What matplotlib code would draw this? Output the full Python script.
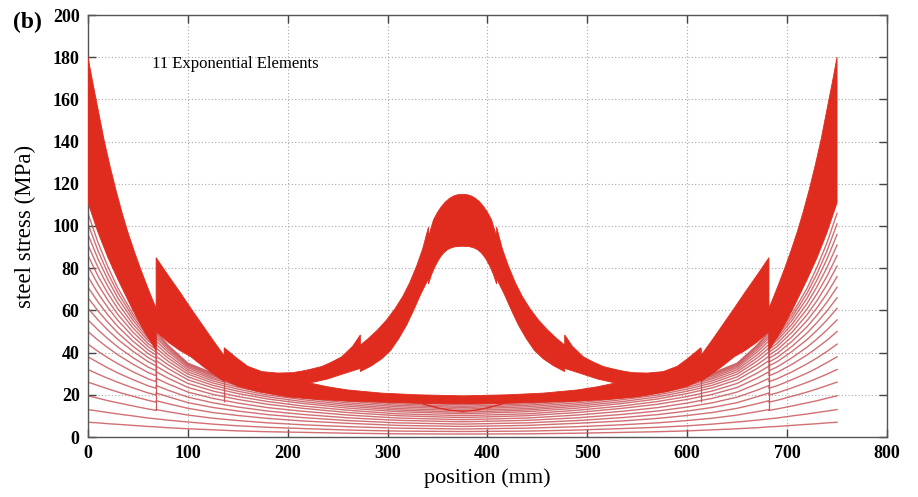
import numpy as np
import matplotlib.pyplot as plt

plt.rcParams['font.family'] = ['Liberation Serif', 'DejaVu Serif']

# bar length (mm), 11 elements of 68.2 mm each; the chart is symmetric about 375 mm
span = 750.0

# thin curves (lower load steps), left half, read at these positions
# (68.2 appears twice: value just left and just right of the element boundary)
thin_x = [0, 10, 20, 30, 45, 60, 68.2, 68.2, 80, 100, 125, 150, 180, 215, 260, 310, 375]
thin_rows = [
    [7.0, 6.7, 6.3, 6.0, 5.5, 5.0, 4.8, 4.8, 4.4, 3.9, 3.4, 2.9, 2.5, 2.2, 1.8, 1.5, 1.4],
    [13.0, 12.3, 11.6, 10.9, 10.0, 9.0, 8.6, 8.6, 8.0, 7.1, 6.1, 5.3, 4.6, 4.0, 3.3, 2.8, 2.6],
    [19.5, 18.4, 17.2, 16.2, 14.7, 13.3, 12.6, 13.0, 12.0, 10.4, 8.9, 7.8, 6.7, 5.8, 4.9, 4.2, 3.8],
    [26.0, 24.4, 22.8, 21.3, 19.3, 17.4, 16.5, 17.2, 15.8, 13.6, 11.6, 10.2, 8.8, 7.6, 6.5, 5.5, 5.0],
    [32.0, 29.8, 27.8, 25.9, 23.3, 20.9, 19.9, 20.9, 19.1, 16.3, 14.0, 12.3, 10.6, 9.2, 7.8, 6.7, 6.1],
    [38.0, 35.3, 32.7, 30.3, 27.2, 24.3, 23.1, 24.4, 22.2, 18.9, 16.2, 14.2, 12.3, 10.7, 9.1, 7.9, 7.2],
    [44.0, 40.6, 37.5, 34.7, 30.9, 27.6, 26.2, 27.8, 25.2, 21.3, 18.3, 16.1, 13.9, 12.2, 10.4, 9.0, 8.2],
    [50.0, 45.9, 42.3, 38.9, 34.5, 30.6, 29.0, 30.9, 27.9, 23.5, 20.2, 17.8, 15.5, 13.6, 11.6, 10.1, 9.2],
    [55.5, 50.8, 46.5, 42.6, 37.6, 33.2, 31.4, 33.6, 30.3, 25.4, 21.8, 19.2, 16.8, 14.7, 12.7, 11.0, 10.1],
    [61.0, 55.5, 50.6, 46.2, 40.6, 35.7, 33.7, 36.2, 32.5, 27.1, 23.3, 20.6, 18.0, 15.9, 13.7, 12.0, 11.0],
    [66.0, 59.8, 54.3, 49.3, 43.0, 37.7, 35.5, 38.3, 34.3, 28.5, 24.5, 21.7, 19.0, 16.8, 14.6, 12.8, 11.7],
    [71.0, 64.0, 57.8, 52.3, 45.4, 39.6, 37.3, 40.4, 36.0, 29.8, 25.6, 22.7, 19.9, 17.7, 15.4, 13.5, 12.5],
    [76.0, 68.1, 61.3, 55.2, 47.6, 41.3, 38.8, 42.2, 37.5, 30.9, 26.6, 23.6, 20.8, 18.5, 16.2, 14.3, 13.2],
    [81.0, 72.3, 64.7, 58.0, 49.7, 42.9, 40.2, 43.9, 38.9, 31.9, 27.5, 24.4, 21.6, 19.3, 17.0, 15.0, 13.9],
    [86.0, 76.3, 68.0, 60.7, 51.7, 44.3, 41.5, 45.5, 40.3, 32.8, 28.2, 25.1, 22.3, 20.0, 17.7, 15.7, 14.5],
    [91.0, 80.4, 71.3, 63.3, 53.5, 45.7, 42.7, 46.9, 41.4, 33.5, 28.9, 25.7, 22.9, 20.6, 18.4, 16.4, 15.2],
    [96.0, 84.4, 74.5, 65.8, 55.3, 46.8, 43.6, 48.0, 42.3, 34.1, 29.4, 26.2, 23.5, 21.2, 19.0, 17.0, 15.8],
    [101.0, 88.3, 77.5, 68.2, 56.8, 47.9, 44.6, 49.2, 43.0, 34.6, 29.9, 26.7, 24.0, 21.8, 19.6, 17.6, 16.4],
    [106.0, 92.2, 80.6, 70.5, 58.3, 48.8, 45.3, 50.0, 43.6, 35.0, 30.2, 27.0, 24.4, 22.3, 20.1, 18.2, 17.0],
]

# small jumps of the thin curves at element boundaries
jump_x = [68.2, 136.4, 613.6, 681.8]
jump_lo = [13, 16.5, 16.5, 13]
jump_hi = [50, 42, 42, 51]

# thick band (higher load steps): outer edge up to where it splits (left half)
outer_x = [0, 5, 10, 16, 22, 28, 34, 40, 46, 52, 58, 63, 68.2,
           68.2, 80, 92, 103, 115, 125, 136.4,
           136.4, 150, 160, 174, 190, 205, 215, 222]
outer_y = [180, 167.5, 155.5, 141, 128.5, 117, 106.5, 97, 88.5, 80.5, 73, 67, 61,
           85, 76.8, 68.7, 61, 52.8, 46, 38.5,
           42.3, 37, 33.5, 31, 30.3, 30.5, 31.3, 32]

# lower edge of the band (left half)
lower_x = [0, 10, 20, 30, 45, 57, 68.2, 68.2, 80, 92, 103, 115, 125, 136.4,
           136.4, 150, 170, 200, 230, 260, 294, 330, 375]
lower_y = [111, 97, 85, 74.6, 60, 49.5, 41, 50, 45, 41, 38, 33.5, 30, 26.3,
           27, 24, 21.5, 19, 17.8, 17, 16.5, 16, 15.7]

# upper edge of the flat branch (left half)
flat_x = [222, 240, 260, 294, 330, 375]
flat_y = [25.6, 23.8, 22.3, 20.8, 20, 19.5]

# central peak: outer and inner edges (left half)
peak_top_x = [222, 234, 244, 254, 265, 272.7,
              272.7, 281, 290, 299, 307, 315, 322, 329, 335, 340.9,
              340.9, 346, 350, 354, 358, 362, 366, 370, 375]
peak_top_y = [32, 33.4, 35.5, 38, 43, 48.4,
              43.5, 46.8, 50.8, 55.5, 60.5, 66.5, 73, 81, 89, 99.5,
              95, 103, 106.5, 109.3, 111.5, 113.1, 114.2, 114.8, 115]
peak_in_x = [222, 240, 256, 272.7,
             272.7, 284, 294, 303, 311, 319, 326, 333, 340.9,
             340.9, 344, 348, 352, 356, 360, 364, 368, 375]
peak_in_y = [25.6, 27.5, 30, 32.5,
             31, 33.8, 37, 41, 46.5, 53, 60, 67.5, 75,
             72.5, 77, 81.3, 84.7, 87.2, 88.8, 89.7, 90.2, 90.4]

# thin curve dipping under the flat branch at mid-span
dip_x = [335, 350, 362, 375, 388, 400, 415]
dip_y = [15.7, 13.8, 12.7, 12.2, 12.7, 13.8, 15.7]


def mirror(x, y):
    x = np.asarray(x, float)
    y = np.asarray(y, float)
    return np.r_[x, span - x[::-1]], np.r_[y, y[::-1]]


red = '#e02c1e'
thin_col = '#c9565b'

fig = plt.figure(figsize=(9.18, 4.97), dpi=100)
ax = fig.add_axes([88 / 918, 1 - 437 / 497, 799 / 918, 422 / 497])

# thin curves
for row in thin_rows:
    xs, ys = mirror(thin_x, row)
    ax.plot(xs, ys, color=thin_col, lw=1.0, alpha=0.85, zorder=2)
ax.vlines(jump_x, jump_lo, jump_hi, color=thin_col, lw=0.9, zorder=2)

# thick band with flat branch
ox = np.asarray(outer_x, float)
oy = np.asarray(outer_y, float)
fx, fy = mirror(flat_x, flat_y)
lx, ly = mirror(lower_x, lower_y)
band_x = np.r_[ox, fx, span - ox[::-1], lx[::-1]]
band_y = np.r_[oy, fy, oy[::-1], ly[::-1]]
ax.fill(band_x, band_y, color=red, lw=0.6, zorder=3)

# central peak
tx, ty = mirror(peak_top_x, peak_top_y)
ix, iy = mirror(peak_in_x, peak_in_y)
ax.fill(np.r_[tx, ix[::-1]], np.r_[ty, iy[::-1]], color=red, lw=0.6, zorder=3)

ax.plot(dip_x, dip_y, color=red, lw=1.0, zorder=3)

ax.text(64, 177, '11 Exponential Elements', fontsize=12, va='center')

ax.set_xlim(0, 800)
ax.set_ylim(0, 200)
ax.set_xticks(np.arange(0, 801, 100))
ax.set_yticks(np.arange(0, 201, 20))
ax.grid(True, color='#a8a8a8', linestyle=(0, (1, 2)), lw=0.8)
ax.set_axisbelow(True)
ax.tick_params(direction='in', top=True, right=True, length=6, width=1,
               color='#444444', labelsize=13, pad=6)
for lab in ax.get_xticklabels() + ax.get_yticklabels():
    lab.set_fontweight('bold')
for s in ax.spines.values():
    s.set_color('#555555')
    s.set_linewidth(1)

ax.set_xlabel('position (mm)', fontsize=16, labelpad=4)
ax.set_ylabel('steel stress (MPa)', fontsize=16.5, labelpad=12)
fig.text(0.014, 0.955, '(b)', fontsize=17, fontweight='bold', va='center')

fig.savefig('out.png', dpi=100)
